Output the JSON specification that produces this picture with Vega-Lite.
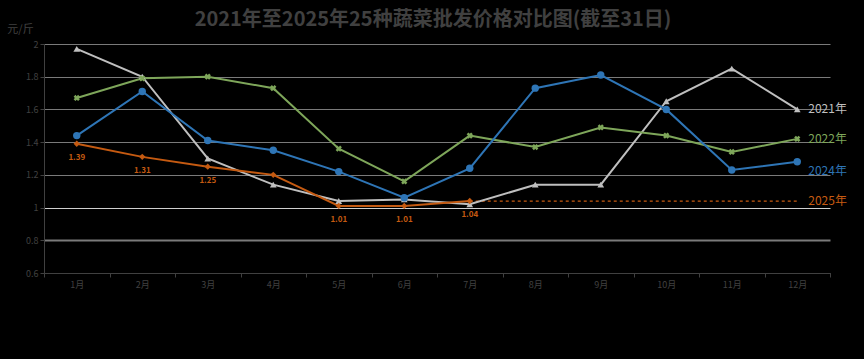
{
  "$schema": "https://vega.github.io/schema/vega-lite/v6.json",
  "width": 786,
  "height": 229,
  "autosize": {"type": "none"},
  "padding": {"left": 44, "top": 44, "right": 34, "bottom": 86},
  "background": "#000000",
  "config": {
    "view": {"stroke": null},
    "font": "Noto Sans CJK SC"
  },
  "title": {
    "text": "2021年至2025年25种蔬菜批发价格对比图(截至31日)",
    "fontSize": 20,
    "font": "Noto Sans CJK SC",
    "fontWeight": "bold",
    "color": "#404040",
    "anchor": "middle",
    "frame": "group",
    "dx": -4,
    "offset": -7
  },
  "datasets": {
    "prices": [
      {"month": "1月", "year": "2021年", "value": 1.97},
      {"month": "2月", "year": "2021年", "value": 1.80},
      {"month": "3月", "year": "2021年", "value": 1.30},
      {"month": "4月", "year": "2021年", "value": 1.14},
      {"month": "5月", "year": "2021年", "value": 1.04},
      {"month": "6月", "year": "2021年", "value": 1.05},
      {"month": "7月", "year": "2021年", "value": 1.02},
      {"month": "8月", "year": "2021年", "value": 1.14},
      {"month": "9月", "year": "2021年", "value": 1.14},
      {"month": "10月", "year": "2021年", "value": 1.65},
      {"month": "11月", "year": "2021年", "value": 1.85},
      {"month": "12月", "year": "2021年", "value": 1.60},
      {"month": "1月", "year": "2022年", "value": 1.67},
      {"month": "2月", "year": "2022年", "value": 1.79},
      {"month": "3月", "year": "2022年", "value": 1.80},
      {"month": "4月", "year": "2022年", "value": 1.73},
      {"month": "5月", "year": "2022年", "value": 1.36},
      {"month": "6月", "year": "2022年", "value": 1.16},
      {"month": "7月", "year": "2022年", "value": 1.44},
      {"month": "8月", "year": "2022年", "value": 1.37},
      {"month": "9月", "year": "2022年", "value": 1.49},
      {"month": "10月", "year": "2022年", "value": 1.44},
      {"month": "11月", "year": "2022年", "value": 1.34},
      {"month": "12月", "year": "2022年", "value": 1.42},
      {"month": "1月", "year": "2024年", "value": 1.44},
      {"month": "2月", "year": "2024年", "value": 1.71},
      {"month": "3月", "year": "2024年", "value": 1.41},
      {"month": "4月", "year": "2024年", "value": 1.35},
      {"month": "5月", "year": "2024年", "value": 1.22},
      {"month": "6月", "year": "2024年", "value": 1.06},
      {"month": "7月", "year": "2024年", "value": 1.24},
      {"month": "8月", "year": "2024年", "value": 1.73},
      {"month": "9月", "year": "2024年", "value": 1.81},
      {"month": "10月", "year": "2024年", "value": 1.60},
      {"month": "11月", "year": "2024年", "value": 1.23},
      {"month": "12月", "year": "2024年", "value": 1.28},
      {"month": "1月", "year": "2025年", "value": 1.39, "label": "1.39"},
      {"month": "2月", "year": "2025年", "value": 1.31, "label": "1.31"},
      {"month": "3月", "year": "2025年", "value": 1.25, "label": "1.25"},
      {"month": "4月", "year": "2025年", "value": 1.20, "label": ""},
      {"month": "5月", "year": "2025年", "value": 1.01, "label": "1.01"},
      {"month": "6月", "year": "2025年", "value": 1.01, "label": "1.01"},
      {"month": "7月", "year": "2025年", "value": 1.04, "label": "1.04"}
    ],
    "ref": [
      {"from": "7月", "to": "12月", "value": 1.04}
    ],
    "ends": [
      {"month": "12月", "year": "2021年", "value": 1.60},
      {"month": "12月", "year": "2022年", "value": 1.42},
      {"month": "12月", "year": "2024年", "value": 1.28},
      {"month": "12月", "year": "2025年", "value": 1.04}
    ]
  },
  "encoding": {
    "x": {
      "field": "month",
      "type": "nominal",
      "sort": ["1月","2月","3月","4月","5月","6月","7月","8月","9月","10月","11月","12月"],
      "scale": {"domain": ["1月","2月","3月","4月","5月","6月","7月","8月","9月","10月","11月","12月"], "paddingInner": 0, "paddingOuter": 0},
      "axis": {
        "title": null,
        "labelAngle": 0,
        "labelFontSize": 9,
        "labelColor": "#404040",
        "labelPadding": 3,
        "tickBand": "extent",
        "tickColor": "#404040",
        "tickSize": 4,
        "domainColor": "#404040",
        "grid": false
      }
    },
    "y": {
      "field": "value",
      "type": "quantitative",
      "scale": {"domain": [0.6, 2], "nice": false, "zero": false},
      "axis": {
        "title": "元/斤",
        "titleAngle": 0,
        "titleX": -24,
        "titleY": -15,
        "titleAlign": "center",
        "titleBaseline": "middle",
        "titleFontSize": 11,
        "titleFontWeight": "normal",
        "titleColor": "#404040",
        "values": [0.6, 0.8, 1, 1.2, 1.4, 1.6, 1.8, 2],
        "format": "~g",
        "labelFontSize": 9,
        "labelColor": "#404040",
        "labelPadding": 2,
        "tickSize": 4,
        "tickColor": "#404040",
        "domainColor": "#404040",
        "grid": true,
        "gridColor": {"condition": {"test": "datum.value === 1", "value": "#d0d0d0"}, "value": "#7a7a7a"},
        "gridWidth": {"condition": {"test": "datum.value === 0.8", "value": 2}, "value": 1.2}
      }
    }
  },
  "layer": [
    {
      "data": {"name": "ref"},
      "mark": {"type": "rule", "color": "#c55a11", "strokeDash": [3, 3], "strokeWidth": 1.2},
      "encoding": {
        "x": {"field": "from", "type": "nominal"},
        "x2": {"field": "to"},
        "y": {"field": "value", "type": "quantitative"}
      }
    },
    {
      "data": {"name": "prices"},
      "mark": {"type": "line", "strokeWidth": 2},
      "encoding": {
        "color": {
          "field": "year",
          "type": "nominal",
          "scale": {"domain": ["2021年", "2022年", "2024年", "2025年"], "range": ["#bfbfbf", "#7ea65a", "#2e75b6", "#c55a11"]},
          "legend": null
        },
        "detail": {"field": "year"}
      }
    },
    {
      "data": {"name": "prices"},
      "transform": [{"filter": "datum.year === '2021年'"}],
      "mark": {"type": "point", "shape": "triangle-up", "filled": true, "size": 45, "color": "#bfbfbf", "opacity": 1}
    },
    {
      "data": {"name": "prices"},
      "transform": [{"filter": "datum.year === '2022年'"}],
      "mark": {"type": "point", "shape": "cross", "angle": 45, "filled": true, "size": 40, "color": "#7ea65a", "opacity": 1}
    },
    {
      "data": {"name": "prices"},
      "transform": [{"filter": "datum.year === '2024年'"}],
      "mark": {"type": "point", "shape": "circle", "filled": true, "size": 55, "color": "#2e75b6", "opacity": 1}
    },
    {
      "data": {"name": "prices"},
      "transform": [{"filter": "datum.year === '2025年'"}],
      "mark": {"type": "point", "shape": "diamond", "filled": true, "size": 40, "color": "#c55a11", "opacity": 1}
    },
    {
      "data": {"name": "prices"},
      "transform": [{"filter": "datum.year === '2025年'"}],
      "mark": {"type": "text", "color": "#c55a11", "fontSize": 8, "fontWeight": "bold", "dy": 14, "baseline": "middle", "align": "center"},
      "encoding": {"text": {"field": "label"}}
    },
    {
      "data": {"name": "ends"},
      "transform": [{"filter": "datum.year !== '2024年'"}],
      "mark": {"type": "text", "fontSize": 12, "align": "left", "baseline": "middle", "dx": 11},
      "encoding": {
        "text": {"field": "year"},
        "color": {"field": "year", "type": "nominal", "legend": null}
      }
    },
    {
      "data": {"name": "ends"},
      "transform": [{"filter": "datum.year === '2024年'"}],
      "mark": {"type": "text", "fontSize": 12, "align": "left", "baseline": "middle", "dx": 11, "dy": 9},
      "encoding": {
        "text": {"field": "year"},
        "color": {"field": "year", "type": "nominal", "legend": null}
      }
    }
  ]
}
